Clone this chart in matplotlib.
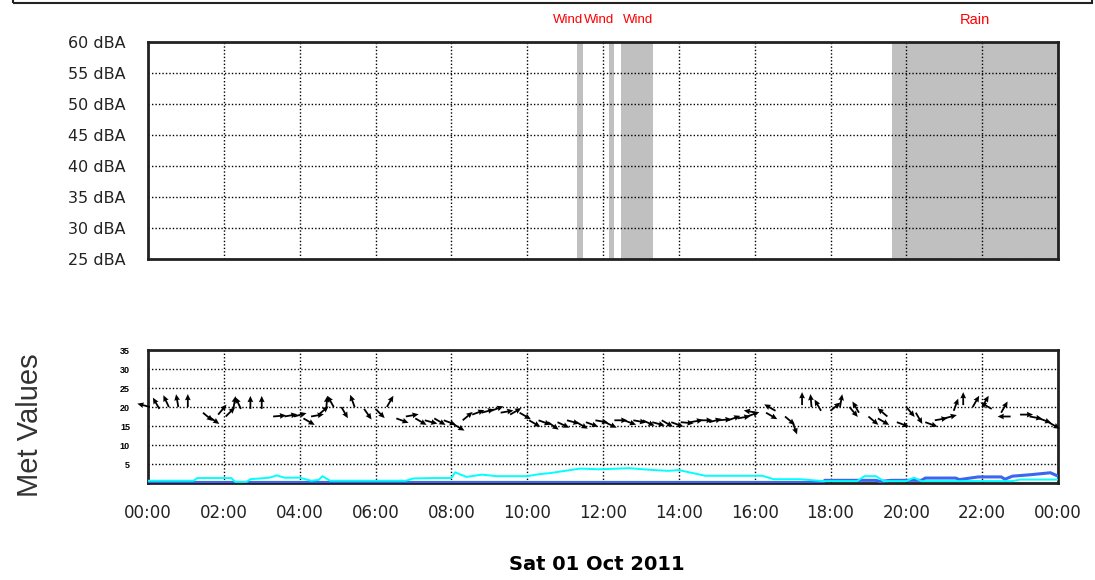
import numpy as np
import matplotlib
matplotlib.use("Agg")
import matplotlib.pyplot as plt
from matplotlib.patches import Rectangle

plt.rcParams['font.family'] = ['Liberation Sans', 'DejaVu Sans']

# noise panel: event periods (hours of the day)
wind_start = [11.31, 12.16, 12.47]
wind_end = [11.47, 12.29, 13.32]
rain_start = [19.62]
rain_end = [24.0]

noise_ticks = [25, 30, 35, 40, 45, 50, 55, 60]
noise_labels = ["25 dBA", "30 dBA", "35 dBA", "40 dBA", "45 dBA", "50 dBA", "55 dBA", "60 dBA"]

hour_ticks = [0, 2, 4, 6, 8, 10, 12, 14, 16, 18, 20, 22, 24]
hour_labels = ["00:00", "02:00", "04:00", "06:00", "08:00", "10:00", "12:00",
               "14:00", "16:00", "18:00", "20:00", "22:00", "00:00"]

met_ticks = [5, 10, 15, 20, 25, 30, 35]

# wind direction arrows plotted on the temperature trace
arrow_time = [0.05, 0.3, 0.55, 0.8, 1.05, 1.45, 1.6, 1.85,
              2.05, 2.25, 2.45, 2.7, 3.0, 3.3, 3.6, 3.85,
              4.1, 4.3, 4.5, 4.7, 4.9, 5.1, 5.45, 5.7, 6.0,
              6.3, 6.55, 6.8, 7.05, 7.3, 7.55, 7.8,
              8.05, 8.3, 8.55, 8.8, 9.05, 9.3, 9.55, 9.8,
              10.05, 10.3, 10.55, 10.8, 11.05, 11.3, 11.55, 11.8,
              12.05, 12.3, 12.55, 12.8, 13.05, 13.3, 13.55, 13.8,
              14.05, 14.3, 14.55, 14.8, 15.05, 15.3, 15.55, 15.8,
              16.05, 16.3, 16.55, 16.8, 17.0, 17.25, 17.5, 17.75,
              18.0, 18.25, 18.5, 18.75, 19.0, 19.25, 19.5, 19.75,
              20.0, 20.25, 20.5, 20.75, 21.0, 21.25, 21.5, 21.75,
              22.0, 22.25, 22.5, 22.75, 23.0, 23.25, 23.5, 23.75]
arrow_temp = [20, 19.5, 20, 20, 20, 18.5, 17.5, 18,
              17.5, 19.5, 19.5, 19.5, 19.5, 17.5, 17.5, 17.5,
              17, 17.5, 18, 19.5, 20, 20, 20, 19.5, 19.5,
              20, 17, 17.5, 17, 16.5, 17, 16.5,
              15.5, 16.5, 18, 18.5, 19, 18.5, 18, 18.5,
              16.5, 16.5, 16, 16, 16.5, 16, 16, 16.5,
              16, 16.5, 16.5, 16.5, 16.5, 16, 16.5, 16,
              16, 16, 16.5, 16, 16.5, 16.5, 17, 17.5,
              18.5, 18.5, 19, 17.5, 16, 20.5, 20, 19,
              19, 20, 20, 18.5, 17.5, 17, 17.5, 16,
              20, 18.5, 16, 16.5, 17, 19, 20.5, 20,
              20, 19.5, 18.5, 17.5, 18, 17.5, 17, 16]
arrow_dir = [165, 120, 115, 100, 90, -40, -35, 50,
             45, 80, 115, 90, 90, 5, 10, 15,
             -30, 10, 40, 85, 120, -60, 110, -55, -45,
             60, -20, 10, -30, -15, -30, -20,
             -30, 40, 20, 15, 20, 10, 30, -30,
             -30, -20, -35, -25, -15, -30, -20, -10,
             -25, 0, -20, -10, -25, -15, -30, -20,
             -5, 10, 0, 15, 5, 20, 10, 20,
             170, -30, 150, -40, -70, 90, 95, 120,
             40, 80, -50, 120, -40, -30, 140, -20,
             -50, -60, -20, 10, 15, 70, 90, 60,
             60, 150, 60, 180, 0, -10, -20, -30]

# wind speed trace (cyan)
speed_time = [0, 1.2, 1.3, 2.2, 2.3, 2.6, 2.7, 3.2, 3.4, 3.6, 4.0, 4.3, 4.5, 4.6, 4.8,
              6.8, 7.0, 7.5, 8.0, 8.1, 8.4, 8.8, 9.2, 10.0, 10.3, 10.6, 11.0, 11.4,
              11.9, 12.7, 13.2, 13.7, 14.0, 14.7, 15.8, 16.2, 16.5, 17.2, 17.8,
              18.7, 18.9, 19.2, 19.4, 20.0, 20.2, 20.4, 22.8, 23.0, 24.0]
speed_val = [0.6, 0.6, 1.3, 1.3, 0.3, 0.3, 1.0, 1.4, 2.0, 1.4, 1.4, 0.6, 0.8, 1.8, 0.6,
             0.6, 1.2, 1.3, 1.3, 2.8, 1.6, 2.2, 1.8, 1.8, 2.3, 2.6, 3.2, 3.8,
             3.6, 3.9, 3.5, 3.2, 3.4, 1.9, 1.9, 1.9, 1.0, 1.0, 0.5,
             0.5, 1.8, 1.8, 0.5, 0.5, 1.4, 0.5, 0.5, 0.9, 0.9]

# rainfall trace (blue)
rain_time = [0, 17.8, 17.85, 19.2, 19.3, 19.6, 20.4, 20.5, 21.3, 21.4, 21.9, 22.5,
             22.6, 22.8, 23.3, 23.8, 24.0]
rain_val = [0.15, 0.15, 0.7, 0.7, 0.4, 0.7, 0.7, 1.3, 1.3, 0.9, 1.6, 1.6,
            1.0, 1.8, 2.2, 2.7, 1.8]

W, H = 1095, 580
fig = plt.figure(figsize=(W / 100, H / 100), dpi=100)

grid_style = dict(color="black", linestyle=(0, (1, 1.5)), linewidth=1.0)

def style_axes(ax):
    for sp in ax.spines.values():
        sp.set_linewidth(2)
        sp.set_color("#222222")
    ax.set_xlim(0, 24)
    ax.set_xticks(hour_ticks)
    ax.grid(True, **grid_style)
    ax.tick_params(length=0)

# top panel: noise levels
ax1 = fig.add_axes([148 / W, 1 - 259 / H, 910 / W, 217 / H])
style_axes(ax1)
ax1.set_ylim(25, 60)
ax1.set_yticks(noise_ticks)
ax1.set_yticklabels(noise_labels, fontsize=11.5, color="#222222", family="DejaVu Sans")
ax1.tick_params(axis="y", pad=16)
ax1.set_xticklabels([])
for s, e in zip(wind_start, wind_end):
    ax1.axvspan(s, e, color="#c0c0c0", lw=0)
    ax1.text(e, 1.10, "Wind", transform=ax1.get_xaxis_transform(),
             color="red", fontsize=9.5, ha="right", va="center")
for s, e in zip(rain_start, rain_end):
    ax1.axvspan(s, e, color="#c0c0c0", lw=0)
    ax1.text((s + e) / 2, 1.10, "Rain", transform=ax1.get_xaxis_transform(),
             color="red", fontsize=10.5, ha="center", va="center")

# bottom panel: met values
ax2 = fig.add_axes([148 / W, 1 - 483 / H, 910 / W, 133 / H])
style_axes(ax2)
ax2.set_ylim(0, 35)
ax2.set_yticks(met_ticks)
ax2.set_yticklabels([str(t) for t in met_ticks], fontsize=6.5, fontweight="bold")
ax2.tick_params(axis="y", pad=13)
ax2.set_xticklabels(hour_labels, fontsize=12, color="#222222", family="DejaVu Sans")
ax2.tick_params(axis="x", pad=15)

ax2.plot(rain_time, rain_val, color="#3a66f0", lw=2.2, zorder=3)
ax2.plot(speed_time, speed_val, color="#00ffff", lw=1.4, zorder=4)

ang = np.radians(arrow_dir)
L = 13
ax2.quiver(arrow_time, arrow_temp, L * np.cos(ang), L * np.sin(ang),
           angles="uv", scale_units="dots", scale=1, units="dots",
           width=1.8, headwidth=3.2, headlength=3.5, headaxislength=3.2,
           color="black", zorder=5, clip_on=False)

fig.text(30 / W, 1 - 425 / H, "Met Values", rotation=90, fontsize=21,
         color="#333333", ha="center", va="center")
fig.text(597 / W, 1 - 565 / H, "Sat 01 Oct 2011", fontsize=14,
         fontweight="bold", family="DejaVu Sans", ha="center", va="center")

# box left over from the header above the chart
fig.patches.append(Rectangle((13 / W, 1 - 3 / H), 1079 / W, 0.1,
                             transform=fig.transFigure, fill=False,
                             lw=1.5, edgecolor="#222222", clip_on=False))

fig.savefig("out.png", dpi=100)
